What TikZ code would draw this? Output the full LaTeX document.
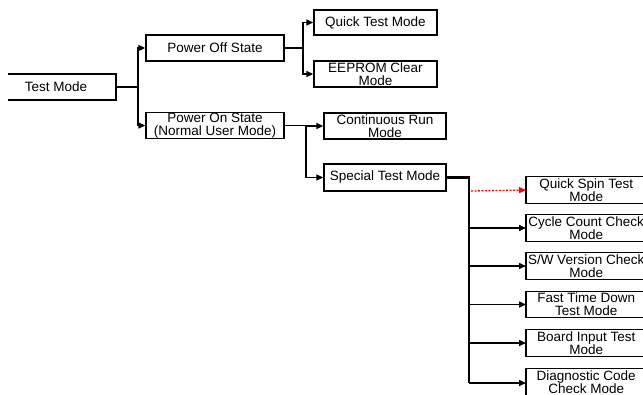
\documentclass[tikz,border=0pt]{standalone}
\usepackage{fontspec}
\setmainfont{Liberation Sans}
\usetikzlibrary{arrows.meta}
\begin{document}
\begin{tikzpicture}[x=1pt,y=-1pt,
  box/.style={draw, line width=1.3pt, inner sep=0pt, align=center,
    font=\fontsize{13.5}{13}\selectfont},
  rbox/.style={box, draw=none, minimum width=119pt, minimum height=26pt, anchor=west},
  conn/.style={line width=1.5pt, -{Triangle[length=7pt,width=6pt]}},
  plain/.style={line width=1.5pt},
  trunk/.style={line width=2.4pt}]
\useasboundingbox (0,0) rectangle (643,394);
% Test Mode (left side outside view)
\node[box, draw=none, minimum width=120pt, minimum height=26pt] (tm) at (56,87) {Test Mode};
\draw[line width=1.3pt] (8,74) -- (116,74) -- (116,100) -- (8,100);
\node[box, minimum width=138pt, minimum height=26pt] (pof) at (215,48) {Power Off State};
\node[box, minimum width=138pt, minimum height=26pt] (pon) at (215,125.5) {Power On State\\(Normal User Mode)};
\node[box, minimum width=123pt, minimum height=25pt] (qt) at (375.5,22.5) {Quick Test Mode};
\node[box, minimum width=123pt, minimum height=26pt] (ee) at (375.5,74) {EEPROM Clear\\Mode};
\node[box, minimum width=122pt, minimum height=26pt] (cr) at (385,126) {Continuous Run\\Mode};
\node[box, minimum width=122pt, minimum height=27pt] (st) at (385,177.5) {Special Test Mode};
% right column: boxes run past the right edge
\node[rbox] (qs) at (526,190) {Quick Spin Test\\Mode};
\node[rbox] (cc) at (526,228) {Cycle Count Check\\Mode};
\node[rbox] (sw) at (526,266) {S/W Version Check\\Mode};
\node[rbox, minimum height=25pt] (ft) at (526,304.5) {Fast Time Down\\Test Mode};
\node[rbox] (bi) at (526,343) {Board Input Test\\Mode};
\node[rbox] (dc) at (526,382) {Diagnostic Code\\Check Mode};
\foreach \n in {qs,cc,sw,ft,bi,dc}
  \draw[line width=1.3pt] (\n.north west) rectangle ([xshift=8pt]\n.south east);
% junctions
\coordinate (j1) at (138,87);
\coordinate (j2) at (303,48);
\coordinate (j3) at (306,125.5);
\coordinate (j4) at (469,177.5);
\coordinate (j4e) at (469,383);
% connectors
\draw[plain] (116,87) -- (j1);
\draw[conn] (j1) |- (pof.west);
\draw[conn] (j1) |- (pon.west);
\draw[plain] (pof.east) -- (j2);
\draw[conn] (j2) |- (qt.west);
\draw[conn] (j2) |- (ee.west);
\draw[plain] (pon.east) -- (j3);
\draw[conn] (j3) |- (cr.west);
\draw[conn] (j3) |- (st.west);
\draw[trunk] (st.east) -- (j4) -- (j4e);
\draw[line width=1.3pt, red, dash pattern=on 2pt off 1.5pt, -{Triangle[length=7pt,width=6pt]}] (471,191) -- (qs.west);
\draw[conn] (j4 |- cc.west) -- (cc.west);
\draw[conn] (j4 |- sw.west) -- (sw.west);
\draw[conn] (j4 |- ft.west) -- (ft.west);
\draw[conn] (j4 |- bi.west) -- (bi.west);
\draw[conn] (j4e) -- (dc.west |- j4e);
\end{tikzpicture}
\end{document}
